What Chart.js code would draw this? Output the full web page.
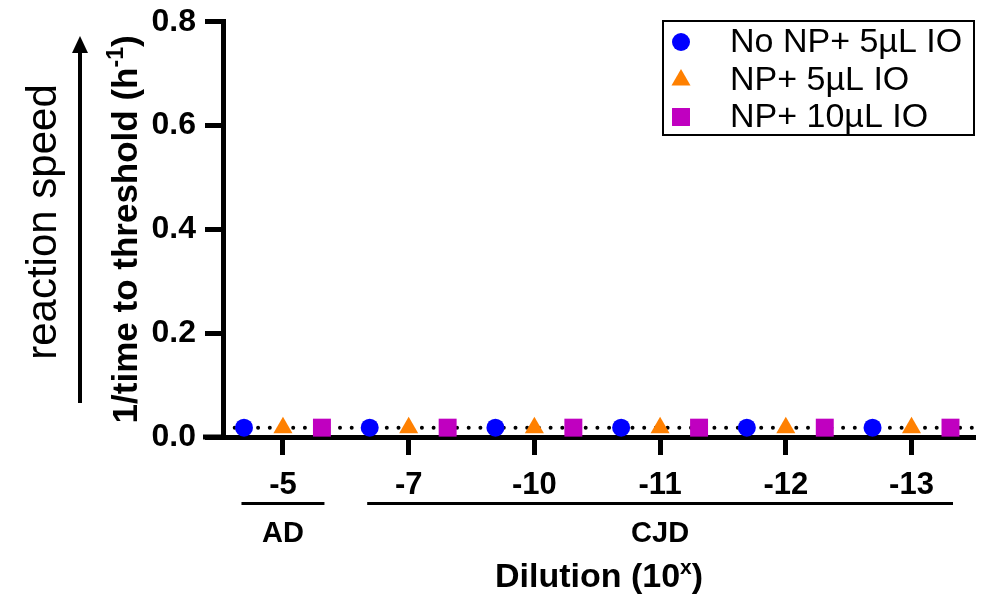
<!DOCTYPE html>
<html>
<head>
<meta charset="utf-8">
<script src="https://cdn.jsdelivr.net/npm/chart.js@4.4.1/dist/chart.umd.min.js"></script>
<style>
  html, body { margin: 0; padding: 0; background: #fff; }
  #wrap { width: 989px; height: 600px; position: relative; }
</style>
</head>
<body>
<div id="wrap"><canvas id="rtChart"></canvas></div>
<script>
// dilutions (10^x) on the x axis
const categories = ["-5", "-7", "-10", "-11", "-12", "-13"];
// 1/time to threshold (h^-1)
const noNp5ul = [0.018, 0.018, 0.018, 0.018, 0.018, 0.018];
const np5ul = [0.018, 0.018, 0.018, 0.018, 0.018, 0.018];
const np10ul = [0.018, 0.018, 0.018, 0.018, 0.018, 0.018];
const seriesNames = ["No NP+ 5µL IO", "NP+ 5µL IO", "NP+ 10µL IO"];
const thresholdValue = 0.018;
const yTicks = [0, 0.2, 0.4, 0.6, 0.8];
// sample groups under the dilutions
const groupLabels = ["AD", "CJD"];
const groupFirst = [0, 1];
const groupLast = [0, 5];

const FONT = "'Liberation Sans', Arial, sans-serif";

function toPoints(values, shift) {
    return values.map((v, i) => ({ x: i + shift, y: v }));
}

/**
 * Extra drawing: arrow, axis titles, group brackets, legend
 */
const decorPlugin = {
    id: "decor",
    afterDraw(chart) {
        const ctx = chart.ctx;
        const area = chart.chartArea;
        const xs = chart.scales.x;
        ctx.save();
        ctx.fillStyle = "#000";
        ctx.strokeStyle = "#000";

        // x axis runs a bit left of the y axis
        ctx.lineWidth = 5;
        ctx.beginPath();
        ctx.moveTo(203, area.bottom);
        ctx.lineTo(area.left, area.bottom);
        ctx.stroke();

        // reaction speed arrow
        ctx.lineWidth = 4;
        ctx.beginPath();
        ctx.moveTo(80, 403);
        ctx.lineTo(80, 50);
        ctx.stroke();
        ctx.beginPath();
        ctx.moveTo(80, 36);
        ctx.lineTo(88, 53);
        ctx.lineTo(72, 53);
        ctx.closePath();
        ctx.fill();

        // reaction speed label
        ctx.save();
        ctx.translate(44, 222);
        ctx.rotate(-Math.PI / 2);
        ctx.font = "42px " + FONT;
        ctx.textAlign = "center";
        ctx.textBaseline = "middle";
        ctx.fillText("reaction speed", 0, 0);
        ctx.restore();

        // y title with superscript
        ctx.save();
        ctx.translate(127, (area.top + area.bottom) / 2);
        ctx.rotate(-Math.PI / 2);
        ctx.textBaseline = "middle";
        ctx.textAlign = "left";
        const mainFont = "bold 35px " + FONT;
        const supFont = "bold 23px " + FONT;
        ctx.font = mainFont;
        const a = "1/time to threshold (h";
        const wa = ctx.measureText(a).width;
        const wc = ctx.measureText(")").width;
        ctx.font = supFont;
        const wb = ctx.measureText("-1").width;
        let x0 = -(wa + wb + wc) / 2;
        ctx.font = mainFont;
        ctx.fillText(a, x0, 0);
        ctx.font = supFont;
        ctx.fillText("-1", x0 + wa, -10);
        ctx.font = mainFont;
        ctx.fillText(")", x0 + wa + wb, 0);
        ctx.restore();

        // group brackets and labels
        ctx.lineWidth = 3;
        ctx.font = "bold 29px " + FONT;
        ctx.textAlign = "center";
        ctx.textBaseline = "middle";
        groupLabels.forEach((g, i) => {
            const l = xs.getPixelForValue(groupFirst[i] - 0.33);
            const r = xs.getPixelForValue(groupLast[i] + 0.33);
            ctx.beginPath();
            ctx.moveTo(l, 503.5);
            ctx.lineTo(r, 503.5);
            ctx.stroke();
            const c = xs.getPixelForValue((groupFirst[i] + groupLast[i]) / 2);
            ctx.fillText(g, c, 534);
        });

        // x title with superscript
        ctx.textAlign = "left";
        const t1 = "Dilution (10";
        ctx.font = "bold 34px " + FONT;
        const w1 = ctx.measureText(t1).width;
        const w3 = ctx.measureText(")").width;
        ctx.font = "bold 21px " + FONT;
        const w2 = ctx.measureText("x").width;
        let tx = (area.left + area.right) / 2 - (w1 + w2 + w3) / 2;
        ctx.font = "bold 34px " + FONT;
        ctx.fillText(t1, tx, 578);
        ctx.font = "bold 21px " + FONT;
        ctx.fillText("x", tx + w1, 568);
        ctx.font = "bold 34px " + FONT;
        ctx.fillText(")", tx + w1 + w2, 578);

        // legend
        ctx.lineWidth = 2;
        ctx.strokeRect(663, 21, 311, 114);
        ctx.font = "34px " + FONT;
        ctx.textBaseline = "middle";
        const rowY = [42, 80, 117];
        seriesNames.forEach((name, i) => {
            const ds = chart.data.datasets[i];
            ctx.fillStyle = ds.backgroundColor;
            Chart.helpers.drawPoint(ctx, {
                pointStyle: ds.pointStyle,
                radius: ds.pointRadius,
                borderWidth: 0,
                rotation: 0
            }, 681, rowY[i]);
            ctx.fillStyle = "#000";
            ctx.fillText(name, 730, rowY[i] + 1);
        });
        ctx.restore();
    }
};

function renderChart() {
    const ctx = document.getElementById("rtChart").getContext("2d");
    const xMin = -0.477;
    const xMax = 5.505;
    new Chart(ctx, {
        type: "scatter",
        data: {
            datasets: [
                {
                    label: seriesNames[0],
                    data: toPoints(noNp5ul, -0.31),
                    pointStyle: "circle",
                    pointRadius: 9,
                    backgroundColor: "#0000ff",
                    borderWidth: 0,
                    clip: false
                },
                {
                    label: seriesNames[1],
                    data: toPoints(np5ul, 0),
                    pointStyle: "triangle",
                    pointRadius: 11,
                    backgroundColor: "#ff8000",
                    borderWidth: 0,
                    clip: false
                },
                {
                    label: seriesNames[2],
                    data: toPoints(np10ul, 0.31),
                    pointStyle: "rect",
                    pointRadius: 12.7,
                    backgroundColor: "#c000c0",
                    borderWidth: 0,
                    clip: false
                },
                {
                    type: "line",
                    label: "threshold",
                    data: [{ x: xMin, y: thresholdValue }, { x: xMax, y: thresholdValue }],
                    borderColor: "#000",
                    borderWidth: 4,
                    borderDash: [0, 11.7],
                    borderCapStyle: "round",
                    pointRadius: 0,
                    fill: false
                }
            ]
        },
        options: {
            responsive: true,
            maintainAspectRatio: false,
            animation: false,
            events: [],
            layout: { padding: { top: 16, right: 14, left: 0, bottom: 0 } },
            plugins: {
                legend: { display: false },
                tooltip: { enabled: false }
            },
            scales: {
                x: {
                    type: "linear",
                    min: xMin,
                    max: xMax,
                    afterBuildTicks: (scale) => {
                        scale.ticks = categories.map((c, i) => ({ value: i }));
                    },
                    afterFit: (scale) => { scale.height = 163; },
                    border: { display: true, color: "#000", width: 5 },
                    grid: {
                        drawOnChartArea: false,
                        drawTicks: true,
                        tickLength: 18,
                        tickWidth: 5,
                        tickColor: "#000"
                    },
                    ticks: {
                        color: "#000",
                        padding: 12,
                        font: { family: FONT, size: 31, weight: "bold" },
                        callback: (v) => categories[v]
                    }
                },
                y: {
                    min: 0,
                    max: 0.8,
                    afterBuildTicks: (scale) => {
                        scale.ticks = yTicks.map((v) => ({ value: v }));
                    },
                    afterFit: (scale) => { scale.width = 223; },
                    border: { display: true, color: "#000", width: 5 },
                    grid: {
                        drawOnChartArea: false,
                        drawTicks: true,
                        tickLength: 18,
                        tickWidth: 5,
                        tickColor: "#000"
                    },
                    ticks: {
                        color: "#000",
                        padding: 9,
                        font: { family: FONT, size: 32, weight: "bold", lineHeight: 0.8 },
                        callback: (v) => v.toFixed(1)
                    }
                }
            }
        },
        plugins: [decorPlugin]
    });
}

document.addEventListener("DOMContentLoaded", renderChart);
</script>
</body>
</html>
